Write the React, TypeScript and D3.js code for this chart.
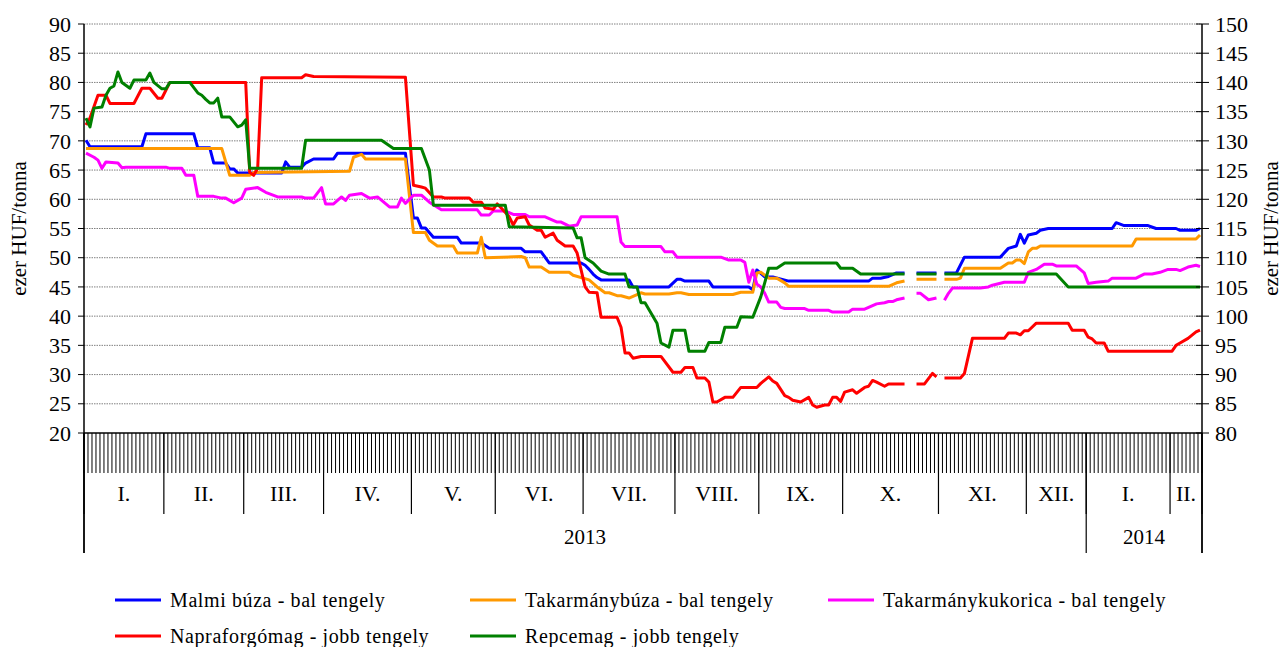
import React from 'react';
import * as d3 from 'd3';

type Pt = [number, number | null];

// months on the category axis (trading days per month)
const monthLabels = ['I.', 'II.', 'III.', 'IV.', 'V.', 'VI.', 'VII.', 'VIII.', 'IX.', 'X.', 'XI.', 'XII.', 'I.', 'II.'];
const monthDays = [20, 20, 20, 22, 21, 22, 23, 21, 21, 24, 22, 15, 21, 8];
const yearLabels = ['2013', '2014'];
const yearMonths = [12, 2];

const leftTicks = [20, 25, 30, 35, 40, 45, 50, 55, 60, 65, 70, 75, 80, 85, 90];
const rightTicks = [80, 85, 90, 95, 100, 105, 110, 115, 120, 125, 130, 135, 140, 145, 150];

// [trading day index, value] - left axis
const malmi: Pt[] = [
  [0, 70.1], [1, 69], [14, 69], [15, 71.2], [27, 71.2], [28, 68.8], [31, 68.8], [32, 66.2], [35, 66.2], [36, 65.2],
  [37, 65.2], [38, 64.5], [49, 64.5], [50, 66.4], [51, 65.5], [54, 65.5], [55, 66.2], [57, 66.9], [62, 66.9], [63, 67.9],
  [80, 67.9], [82, 56.8], [83, 56.8], [84, 55.1], [85, 55.1], [87, 53.5], [93, 53.5], [94, 52.5], [99, 52.5], [101, 51.6],
  [109, 51.6], [110, 51], [114, 51], [116, 49.1], [124, 49.1], [125, 48.7], [126, 48], [127, 47.2], [128, 46.6], [129, 46.2],
  [136, 46.2], [137, 45], [146, 45], [148, 46.3], [149, 46.3], [150, 46], [156, 46], [157, 45], [166, 45], [167, 44.5],
  [168, 47.9], [170, 46.7], [172, 46.7], [176, 46], [196, 46], [197, 46.5], [199, 46.5], [201, 46.8], [203, 47.4], [205, 47.4],
  [206, null], [208, 47.4], [213, 47.4], [214, null], [215, 47.4], [218, 47.4], [220, 50.1], [229, 50.1], [231, 51.6], [233, 52],
  [234, 54], [235, 52.5], [236, 53.9], [238, 54.2], [239, 54.7], [241, 55], [257, 55], [258, 56], [260, 55.5], [266, 55.5],
  [268, 55], [273, 55], [274, 54.7], [278, 54.7], [279, 55],
];

const takarmanybuza: Pt[] = [
  [0, 68.7], [34, 68.7], [36, 64.1], [41, 64.1], [42, 64.6], [66, 64.8], [67, 67.2], [69, 67.7], [70, 66.9], [80, 66.9],
  [82, 54.3], [85, 54.3], [86, 53], [88, 52], [92, 52], [93, 50.8], [98, 50.8], [99, 53.5], [100, 50], [109, 50.2],
  [110, 50], [111, 48.4], [114, 48.4], [116, 47.5], [121, 47.5], [122, 47], [126, 46.2], [128, 45], [130, 44], [131, 44],
  [133, 43.5], [134, 43.5], [136, 43.1], [139, 44], [140, 43.8], [146, 43.8], [148, 44], [149, 44], [151, 43.7], [162, 43.7],
  [164, 44.1], [167, 44.1], [168, 47.4], [169, 47.5], [171, 46.5], [173, 46.5], [175, 45.7], [176, 45.1], [201, 45.1], [203, 45.7],
  [205, 46], [206, null], [208, 46.3], [213, 46.3], [214, null], [215, 46.3], [218, 46.3], [219, 46.5], [220, 48.2], [229, 48.2],
  [231, 49.1], [232, 49.1], [233, 49.6], [234, 49.6], [235, 49], [236, 51], [237, 51.6], [238, 51.6], [239, 52], [262, 52],
  [263, 53.2], [278, 53.2], [279, 53.9],
];

const kukorica: Pt[] = [
  [0, 67.9], [2, 67.2], [3, 66.7], [4, 65.3], [5, 66.4], [8, 66.2], [9, 65.4], [10, 65.5], [20, 65.5], [21, 65.3],
  [24, 65.3], [25, 64.1], [27, 64.1], [28, 60.5], [32, 60.5], [34, 60.2], [35, 60.2], [37, 59.4], [39, 60.2], [40, 61.7],
  [43, 62], [45, 61.2], [48, 60.4], [54, 60.4], [55, 60.2], [57, 60.2], [59, 62], [60, 59.2], [62, 59.2], [64, 60.4],
  [65, 59.8], [66, 60.7], [69, 61], [71, 60.2], [73, 60.4], [76, 58.7], [78, 58.7], [79, 60.2], [80, 59.3], [82, 60.7],
  [84, 60.7], [86, 59.5], [89, 58.2], [98, 58.2], [99, 57.3], [101, 57.3], [102, 58], [105, 58], [107, 57.4], [110, 57.4],
  [111, 57], [115, 57], [118, 56.1], [119, 56.1], [121, 55.4], [123, 55.6], [124, 57], [133, 57], [134, 52.7], [135, 51.9],
  [144, 51.9], [145, 51], [147, 51], [148, 50.1], [159, 50.1], [161, 49.6], [164, 49.6], [165, 49.2], [166, 45.8], [167, 47.9],
  [168, 45.5], [169, 45], [170, 43.9], [171, 42.4], [173, 42.4], [174, 41.5], [175, 41.3], [180, 41.3], [181, 41], [186, 41],
  [187, 40.7], [191, 40.7], [192, 41.2], [195, 41.2], [196, 41.5], [198, 42.1], [200, 42.3], [201, 42.5], [202, 42.5], [203, 42.8],
  [205, 43.1], [206, null], [208, 43.9], [209, 43.9], [211, 42.8], [213, 43.1], [214, null], [215, 42.7], [216, 43.9], [217, 44.8],
  [224, 44.8], [226, 45], [227, 45.3], [230, 45.8], [235, 45.8], [236, 47.5], [238, 48], [240, 48.9], [242, 48.9], [243, 48.6],
  [248, 48.6], [250, 47.4], [251, 45.6], [253, 45.8], [256, 46], [257, 46.5], [263, 46.5], [265, 47.2], [267, 47.2], [269, 47.5],
  [271, 48], [273, 48], [274, 47.8], [276, 48.4], [278, 48.7], [279, 48.5],
];

// right axis
const napraforgo: Pt[] = [
  [0, 132.7], [1, 133.9], [3, 137.8], [5, 137.8], [6, 136.4], [12, 136.4], [14, 139], [16, 139], [18, 137.3], [19, 137.3],
  [21, 140], [40, 140], [41, 124.6], [42, 124.1], [43, 125.3], [44, 140.8], [54, 140.8], [55, 141.3], [57, 141], [80, 140.9],
  [82, 122.4], [84, 122.1], [85, 121.9], [87, 120.4], [89, 120.4], [90, 120.2], [96, 120.2], [97, 119.5], [99, 119.5], [100, 118.5],
  [102, 118.3], [103, 119.2], [104, 118.5], [106, 117], [107, 115.6], [108, 116.8], [110, 117], [111, 115.6], [113, 114.7], [114, 114.7],
  [115, 113.5], [117, 114.2], [118, 113], [120, 112], [122, 112], [123, 110.8], [125, 105], [126, 104.1], [128, 104], [129, 99.8],
  [133, 99.8], [134, 98.1], [135, 93.7], [136, 93.7], [137, 92.8], [139, 93.1], [144, 93.1], [147, 90.4], [149, 90.4], [150, 91.2],
  [152, 91.2], [153, 89.4], [155, 89.4], [156, 88.7], [157, 85.3], [158, 85.3], [160, 86.1], [162, 86.1], [164, 87.8], [168, 87.8],
  [169, 88.5], [171, 89.6], [172, 88.9], [173, 88.5], [175, 86.4], [176, 86.1], [177, 85.6], [179, 85.3], [181, 86.1], [182, 84.8],
  [183, 84.4], [185, 84.8], [186, 84.8], [187, 86.1], [188, 86.1], [189, 85.4], [190, 87], [192, 87.4], [193, 86.8], [195, 87.8],
  [196, 88], [197, 89], [198, 88.7], [200, 88], [201, 88.4], [205, 88.4], [206, null], [208, 88.4], [210, 88.4], [212, 90.2],
  [213, 89.6], [214, null], [215, 89.4], [219, 89.4], [220, 90.2], [222, 96.2], [230, 96.2], [231, 97.1], [233, 97.1], [234, 96.8],
  [235, 97.5], [236, 97.5], [238, 98.8], [246, 98.8], [247, 97.6], [250, 97.6], [251, 96.4], [252, 96.1], [253, 95.4], [255, 95.4],
  [256, 94], [272, 94], [273, 95], [274, 95.4], [276, 96.2], [278, 97.3], [279, 97.6],
];

const repce: Pt[] = [
  [0, 133.9], [1, 132.4], [2, 135.6], [4, 135.8], [5, 137.8], [6, 139], [7, 139.4], [8, 141.8], [9, 140], [11, 139],
  [12, 140.4], [15, 140.4], [16, 141.6], [17, 140], [19, 138.9], [20, 138.9], [21, 140], [26, 140], [28, 138.2], [29, 137.8],
  [30, 137.1], [31, 136.5], [32, 136.5], [33, 137.3], [34, 134.1], [36, 134.1], [38, 132.4], [39, 132.7], [40, 133.6], [41, 125.3],
  [54, 125.3], [55, 130.1], [74, 130.1], [77, 128.7], [84, 128.7], [86, 125], [87, 119], [105, 119], [106, 115.3], [122, 115.1],
  [123, 113.4], [124, 113.4], [125, 110], [127, 109.1], [129, 107.7], [131, 107.2], [135, 107.2], [136, 105], [138, 105], [139, 102.3],
  [140, 102.3], [143, 98.8], [144, 95.4], [146, 94.7], [147, 97.6], [150, 97.6], [151, 94], [155, 94], [156, 95.5], [159, 95.5],
  [160, 98.1], [163, 98.1], [164, 99.9], [167, 99.8], [169, 103.3], [171, 108.2], [173, 108.2], [175, 109.1], [188, 109.1], [189, 108.2],
  [192, 108.2], [194, 107.2], [205, 107.2], [206, null], [208, 107.2], [213, 107.2], [214, null], [215, 107.2], [243, 107.2], [246, 105],
  [279, 105],
];

const seriesNames = [
  'Malmi búza - bal tengely',
  'Takarmánybúza - bal tengely',
  'Takarmánykukorica - bal tengely',
  'Napraforgómag - jobb tengely',
  'Repcemag - jobb tengely',
];
const seriesColors = ['#0000ff', '#ff9900', '#ff00ff', '#ff0000', '#008000'];
const seriesData = [malmi, takarmanybuza, kukorica, napraforgo, repce];
const seriesAxis = ['left', 'left', 'left', 'right', 'right'];

const W = 1285;
const H = 647;
const L = 84;
const R = 1202;
const T = 24;
const B = 433;
const FONT = "'Liberation Serif', 'Times New Roman', serif";
const FS = 21;

const App = () => {
  const totalDays = d3.sum(monthDays);
  const x = d3.scaleLinear().domain([0, totalDays]).range([L, R]);
  const yL = d3.scaleLinear().domain([20, 90]).range([B, T]);
  const yR = d3.scaleLinear().domain([80, 150]).range([B, T]);

  const monthEdges = [0, ...d3.cumsum(monthDays)];
  const yearEdges = [0, ...d3.cumsum(yearMonths)].map((m) => monthEdges[m]);

  const makeLine = (scale: d3.ScaleLinear<number, number>) =>
    d3
      .line<Pt>()
      .defined((d) => d[1] !== null)
      .x((d) => x(d[0] + 0.5))
      .y((d) => scale(d[1] as number));

  const lineL = makeLine(yL);
  const lineR = makeLine(yR);

  const legendPos = [
    [115, 600],
    [470, 600],
    [828, 600],
    [115, 636],
    [470, 636],
  ];

  return (
    <div style={{ position: 'absolute', left: 0, top: 0 }}>
      <svg width={W} height={H} style={{ display: 'block', background: '#fff', fontFamily: FONT }}>
        {/* gridlines */}
        {leftTicks.slice(1).map((t) => (
          <line key={'g' + t} x1={L} x2={R} y1={yL(t)} y2={yL(t)} stroke="#808080" strokeWidth={1} strokeDasharray="1.5 1" />
        ))}

        {/* series */}
        {seriesData.map((d, i) => (
          <path
            key={seriesNames[i]}
            d={(seriesAxis[i] === 'left' ? lineL : lineR)(d) || ''}
            fill="none"
            stroke={seriesColors[i]}
            strokeWidth={3}
            strokeLinejoin="round"
          />
        ))}

        {/* left axis */}
        <line x1={L} x2={L} y1={T} y2={553} stroke="#000" strokeWidth={1.5} />
        {leftTicks.map((t) => (
          <g key={'l' + t}>
            <line x1={L - 6} x2={L} y1={yL(t)} y2={yL(t)} stroke="#000" />
            <text x={L - 13} y={yL(t)} dy="0.35em" textAnchor="end" fontSize={FS + 1}>
              {t}
            </text>
          </g>
        ))}
        <text transform={`translate(19,${(T + B) / 2}) rotate(-90)`} textAnchor="middle" dy="0.35em" fontSize={FS}>
          ezer HUF/tonna
        </text>

        {/* right axis */}
        <line x1={R} x2={R} y1={T} y2={553} stroke="#000" strokeWidth={1.5} />
        {rightTicks.map((t) => (
          <g key={'r' + t}>
            <line x1={R - 6} x2={R + 7} y1={yR(t)} y2={yR(t)} stroke="#000" />
            <text x={R + 13} y={yR(t)} dy="0.35em" textAnchor="start" fontSize={FS + 1}>
              {t}
            </text>
          </g>
        ))}
        <text transform={`translate(1271,${(T + B) / 2}) rotate(-90)`} textAnchor="middle" dy="0.35em" fontSize={FS}>
          ezer HUF/tonna
        </text>

        {/* category axis */}
        <line x1={L} x2={R} y1={B} y2={B} stroke="#000" strokeWidth={1.5} />
        {d3.range(totalDays + 1).map((i) => (
          <line key={'t' + i} x1={x(i)} x2={x(i)} y1={B} y2={473} stroke="#000" strokeWidth={1} />
        ))}
        {monthEdges.map((e, i) => (
          <line key={'m' + i} x1={x(e)} x2={x(e)} y1={B} y2={514} stroke="#000" strokeWidth={1.2} />
        ))}
        {monthLabels.map((m, i) => (
          <text key={'ml' + i} x={(x(monthEdges[i]) + x(monthEdges[i + 1])) / 2} y={501} textAnchor="middle" fontSize={FS + 1}>
            {m}
          </text>
        ))}
        {yearEdges.map((e, i) => (
          <line key={'y' + i} x1={x(e)} x2={x(e)} y1={B} y2={553} stroke="#000" strokeWidth={1.2} />
        ))}
        {yearLabels.map((yl, i) => (
          <text key={yl} x={(x(yearEdges[i]) + x(yearEdges[i + 1])) / 2} y={544} textAnchor="middle" fontSize={FS}>
            {yl}
          </text>
        ))}

        {/* legend */}
        {seriesNames.map((n, i) => (
          <g key={'lg' + n} transform={`translate(${legendPos[i][0]},${legendPos[i][1]})`}>
            <line x1={0} x2={46} y1={0} y2={0} stroke={seriesColors[i]} strokeWidth={3} />
            <text x={55} y={0} dy="0.35em" fontSize={FS - 1} letterSpacing={0.6}>
              {n}
            </text>
          </g>
        ))}
      </svg>
    </div>
  );
};

export default App;
